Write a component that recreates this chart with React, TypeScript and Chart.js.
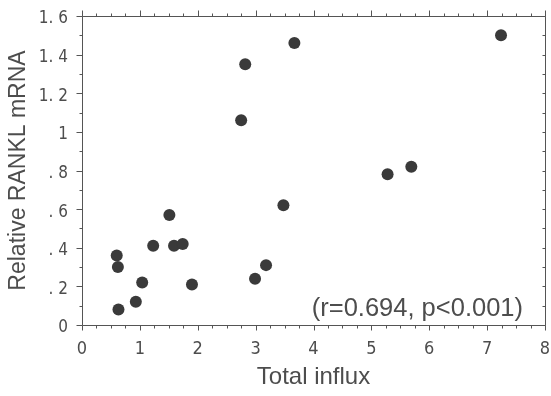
import React, { useEffect, useRef } from "react";
import { Chart, registerables } from "chart.js";

Chart.register(...registerables);

// ---- data ----
const totalInflux = [0.6, 0.62, 0.63, 0.93, 1.04, 1.23, 1.51, 1.59, 1.74, 1.9, 2.75, 2.82, 2.99, 3.18, 3.48, 3.67, 5.28, 5.69, 7.24];
const relativeRankl = [0.36, 0.3, 0.08, 0.12, 0.22, 0.41, 0.57, 0.41, 0.42, 0.21, 1.06, 1.35, 0.24, 0.31, 0.62, 1.46, 0.78, 0.82, 1.5];
const xTickLabels = ["0", "1", "2", "3", "4", "5", "6", "7", "8"];
const yTickLabels = ["0", ". 2", ". 4", ". 6", ". 8", "1", "1. 2", "1. 4", "1. 6"];
const xTitle = "Total influx";
const yTitle = "Relative RANKL mRNA";
const annotation = "(r=0.694, p<0.001)";

const TEXT = "#4d4d4d";
const LINE = "#555555";
const DOT = "#3a3a3a";
const NARROW = "'Liberation Sans Narrow', 'DejaVu Sans Condensed', sans-serif";
const SANS = "'Liberation Sans', Arial, sans-serif";

const framePlugin = {
  id: "frame",
  afterDraw(chart: any) {
    const { ctx, chartArea: a } = chart;
    const xs = chart.scales.x;
    const ys = chart.scales.y;
    const L = Math.round(a.left) + 0.5;
    const R = Math.round(a.right) + 0.5;
    const T = Math.round(a.top) + 0.5;
    const B = Math.round(a.bottom) + 0.5;
    ctx.save();
    ctx.strokeStyle = LINE;
    ctx.lineWidth = 1;
    ctx.beginPath();
    ctx.rect(L, T, R - L, B - T);
    // x ticks (every 0.25)
    for (let i = 0; i <= 32; i++) {
      const v = i * 0.25;
      const px = Math.round(xs.getPixelForValue(v)) + 0.5;
      const major = i % 4 === 0;
      ctx.moveTo(px, B);
      ctx.lineTo(px, B + (major ? 5 : 3));
      ctx.moveTo(px, T);
      ctx.lineTo(px, T - (major ? 6 : 3));
    }
    // y ticks (every 0.1)
    for (let i = 0; i <= 16; i++) {
      const v = i * 0.1;
      const py = Math.round(ys.getPixelForValue(v)) + 0.5;
      const major = i % 2 === 0;
      ctx.moveTo(L, py);
      ctx.lineTo(L - (major ? 6 : 3), py);
      ctx.moveTo(R, py);
      ctx.lineTo(R - 3, py);
    }
    ctx.stroke();
    ctx.fillStyle = TEXT;
    ctx.font = "25.5px " + SANS;
    ctx.textAlign = "right";
    ctx.textBaseline = "alphabetic";
    ctx.fillText(annotation, a.right - 22, a.bottom - 9);
    ctx.restore();
  },
};

export default function App() {
  const ref = useRef<HTMLCanvasElement | null>(null);
  useEffect(() => {
    if (!ref.current) return;
    const chart = new Chart(ref.current, {
      type: "scatter",
      data: {
        datasets: [
          {
            data: totalInflux.map((x, i) => ({ x, y: relativeRankl[i] })),
            backgroundColor: DOT,
            borderColor: DOT,
            borderWidth: 0,
            pointRadius: 6,
            pointHoverRadius: 6,
          },
        ],
      },
      options: {
        responsive: false,
        animation: false,
        events: [],
        layout: { padding: { top: 16, right: 6, left: 0, bottom: 0 } },
        plugins: { legend: { display: false }, tooltip: { enabled: false } },
        scales: {
          x: {
            type: "linear",
            min: 0,
            max: 8,
            grid: { display: false, drawTicks: false },
            border: { display: false },
            ticks: {
              stepSize: 1,
              color: TEXT,
              font: { family: NARROW, size: 18 },
              padding: 14,
              maxRotation: 0,
              callback: (v: any, i: number) => xTickLabels[i] ?? "",
            },
            title: {
              display: true,
              text: xTitle,
              color: TEXT,
              font: { family: SANS, size: 24 },
              padding: { top: 0, bottom: 4 },
            },
            afterFit: (s: any) => {
              s.height = 71;
              s.paddingLeft = 0;
              s.paddingRight = 0;
              s.paddingTop = 0;
              s.paddingBottom = 0;
            },
          },
          y: {
            type: "linear",
            min: 0,
            max: 1.6,
            grid: { display: false, drawTicks: false },
            border: { display: false },
            ticks: {
              stepSize: 0.2,
              color: TEXT,
              font: { family: NARROW, size: 17 },
              padding: 14,
              labelOffset: 3,
              callback: (v: any, i: number) => yTickLabels[i] ?? "",
            },
            title: {
              display: true,
              text: yTitle,
              color: TEXT,
              font: { family: SANS, size: 23 },
              padding: { top: 5, bottom: 0 },
            },
            afterFit: (s: any) => {
              s.width = 82;
              s.paddingLeft = 0;
              s.paddingRight = 0;
              s.paddingTop = 0;
              s.paddingBottom = 0;
            },
          },
        },
      },
      plugins: [framePlugin],
    });
    return () => chart.destroy();
  }, []);
  return (
    <div style={{ position: "absolute", left: 0, top: 0, width: 551, height: 396, background: "#fff" }}>
      <canvas ref={ref} width={551} height={396} />
    </div>
  );
}
